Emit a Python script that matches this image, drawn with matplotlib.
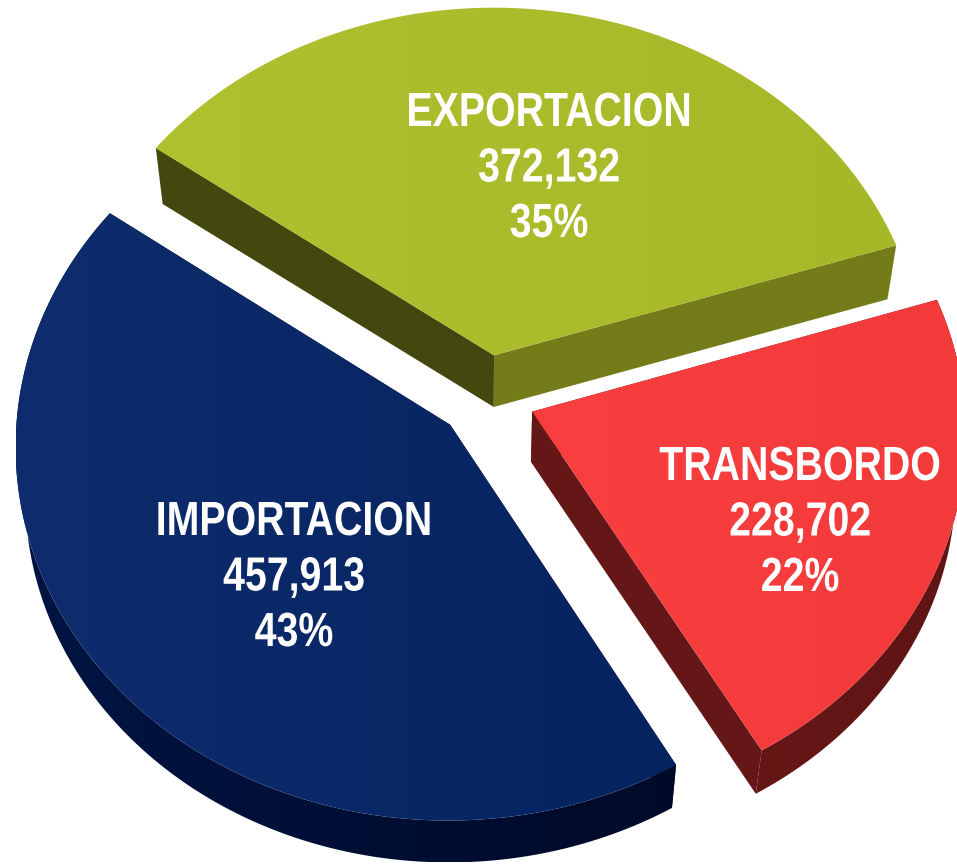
"""Exploded 3D-look pie of container moves, saved to out.png."""

import numpy as np
import matplotlib

matplotlib.use("Agg")

import matplotlib.pyplot as plt
import matplotlib.patheffects as pe
from matplotlib.colors import LinearSegmentedColormap
from matplotlib.patches import Polygon
from matplotlib.text import Text
from matplotlib.transforms import Affine2D, Bbox

categories = ["IMPORTACION", "TRANSBORDO", "EXPORTACION"]
values = [457913, 228702, 372132]

# gradient left/right for the top faces, rim, and radial face shade
TOP_COLORS = [("#0f2d6e", "#05235f"), ("#f93f40", "#f33a3b"), ("#afc12f", "#a5b827")]
RIM_COLORS = [("#001443", "#000a28"), ("#651716", "#5e1514"), ("#747c1a", "#707818")]
FACE_COLORS = ["#000f33", "#641716", "#44480e"]
LABEL_POS = [(294, 535), (800, 480), (549, 126)]

START_ANGLE = 144.3
EXPLODE = 0.113
# projection of the pie plane to picture pixels
CX, CY = 486.5, 396.5
RX, RY = 432.0, 371.0
PERSP = 0.0546
VANISH = (480.0, 2815.0)
DEPTH = 0.979
NARROW = 0.82

plt.rcParams["font.family"] = ["Liberation Sans"]


class Squeeze(pe.AbstractPathEffect):
    def __init__(self, cx):
        super().__init__()
        self.cx = cx

    def draw_path(self, renderer, gc, tpath, affine, rgbFace=None):
        squeeze = Affine2D().translate(-self.cx, 0).scale(NARROW, 1).translate(self.cx, 0)
        renderer.draw_path(gc, tpath, affine + squeeze, rgbFace)


class NarrowText(Text):
    """Arial Narrow look: no narrow font here, so the glyphs are squeezed at draw time."""

    def get_window_extent(self, renderer=None, dpi=None):
        box = super().get_window_extent(renderer, dpi)
        mid = (box.x0 + box.x1) / 2
        half = box.width * NARROW / 2
        return Bbox([[mid - half, box.y0], [mid + half, box.y1]])


def project(x, y):
    g = 1.0 / (1.0 + PERSP * y)
    return np.column_stack([CX + RX * x * g, CY - RY * y * g])


def lower(pts):
    v = np.array(VANISH)
    return v + (pts - v) * DEPTH


def fill_gradient(ax, pts, left, right, z):
    cmap = LinearSegmentedColormap.from_list("g", [left, right])
    x0, x1 = pts[:, 0].min(), pts[:, 0].max()
    y0, y1 = pts[:, 1].min(), pts[:, 1].max()
    im = ax.imshow(np.linspace(0, 1, 256).reshape(1, -1), cmap=cmap, aspect="auto",
                   extent=(x0, x1, y1, y0), interpolation="bilinear", zorder=z)
    clip = Polygon(pts, closed=True, fc="none", ec="none", zorder=z)
    ax.add_patch(clip)
    im.set_clip_path(clip)


fig = plt.figure(figsize=(9.57, 8.65), dpi=100)
ax = fig.add_axes([0, 0, 1, 1])

fractions = np.array(values) / sum(values)
edges = START_ANGLE + 360.0 * np.concatenate([[0], np.cumsum(fractions)])

slices = []
for i in range(len(values)):
    a0, a1 = edges[i], edges[i + 1]
    mid = np.radians((a0 + a1) / 2)
    ox, oy = EXPLODE * np.cos(mid), EXPLODE * np.sin(mid)
    t = np.radians(np.linspace(a0, a1, 200))
    arc = project(ox + np.cos(t), oy + np.sin(t))
    apex = project(np.array([ox]), np.array([oy]))
    slices.append((apex, arc))

# back slice first so the nearer ones sit over it
z = 1
for i in [2, 1, 0]:
    apex, arc = slices[i]
    low_apex, low_arc = lower(apex), lower(arc)

    end_face = np.vstack([apex, arc[-1:], low_arc[-1:], low_apex])
    start_face = np.vstack([apex, arc[:1], low_arc[:1], low_apex])
    ax.add_patch(Polygon(end_face, fc=FACE_COLORS[i], ec="none", zorder=z))
    # the start edge of the green slice faces the viewer and catches the light
    start_color = RIM_COLORS[2][0] if i == 2 else FACE_COLORS[i]
    ax.add_patch(Polygon(start_face, fc=start_color, ec="none", zorder=z))
    if i != 2:
        fill_gradient(ax, np.vstack([arc, low_arc[::-1]]), *RIM_COLORS[i], z + 1)
    fill_gradient(ax, np.vstack([apex, arc]), *TOP_COLORS[i], z + 2)
    z += 3

for name, value, frac, (x, y) in zip(categories, values, fractions, LABEL_POS):
    lines = [name, f"{value:,}", f"{frac * 100:.0f}%"]
    for n, line in enumerate(lines):
        label = NarrowText(x, y + 55.5 * n, line, color="white", fontsize=34.5, fontweight="bold",
                           ha="center", va="baseline", zorder=z,
                           path_effects=[Squeeze(x)])
        ax.add_artist(label)

ax.set_xlim(0, 957)
ax.set_ylim(865, 0)
ax.axis("off")

fig.savefig("out.png", dpi=100, facecolor="white")
plt.close(fig)
